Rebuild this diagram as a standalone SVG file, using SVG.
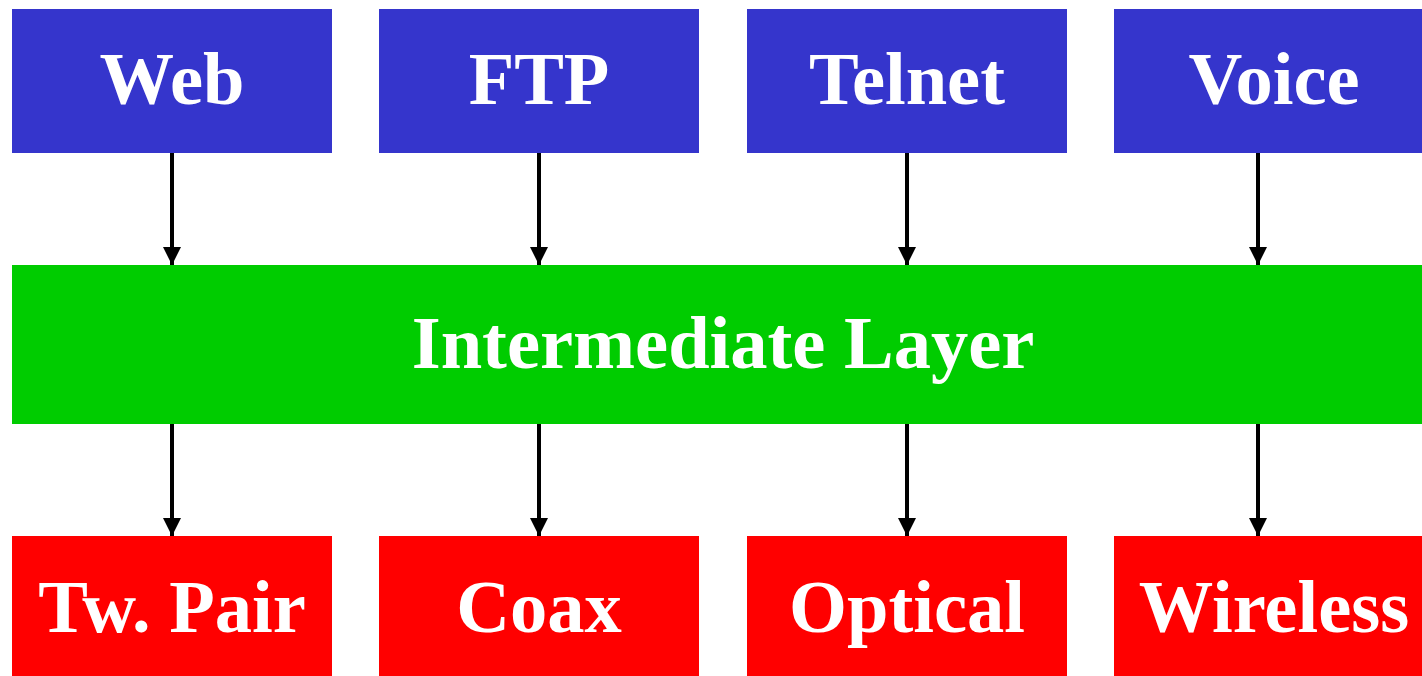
<svg xmlns="http://www.w3.org/2000/svg" width="1422" height="676" viewBox="0 0 1422 676">
<style>
.t{font-family:"Liberation Serif","Times New Roman",serif;font-weight:bold;font-size:74.5px;fill:#fff;text-anchor:middle}
.app{fill:#3535cc}
.mid{fill:#00cc00}
.phy{fill:#ff0000}
.c{stroke:#000;stroke-width:4;fill:none;marker-end:url(#ah)}
</style>
<defs>
<marker id="ah" markerUnits="userSpaceOnUse" markerWidth="18" markerHeight="18" refX="18" refY="9" orient="auto" viewBox="0 0 18 18">
<path d="M0,0 L18,9 L0,18 Z" fill="#000"/>
</marker>
</defs>
<rect width="1422" height="676" fill="#fff"/>
<g id="web"><rect class="app" x="12" y="9" width="320" height="144"/><text class="t" x="172" y="104">Web</text></g>
<g id="ftp"><rect class="app" x="379" y="9" width="320" height="144"/><text class="t" x="539" y="104">FTP</text></g>
<g id="telnet"><rect class="app" x="747" y="9" width="320" height="144"/><text class="t" x="907" y="104">Telnet</text></g>
<g id="voice"><rect class="app" x="1114" y="9" width="320" height="144"/><text class="t" x="1274" y="104">Voice</text></g>
<g id="intermediate"><rect class="mid" x="12" y="265" width="1422" height="159"/><text class="t" x="723" y="368">Intermediate Layer</text></g>
<g id="twpair"><rect class="phy" x="12" y="536" width="320" height="144"/><text class="t" x="172" y="632">Tw. Pair</text></g>
<g id="coax"><rect class="phy" x="379" y="536" width="320" height="144"/><text class="t" x="539" y="632">Coax</text></g>
<g id="optical"><rect class="phy" x="747" y="536" width="320" height="144"/><text class="t" x="907" y="632">Optical</text></g>
<g id="wireless"><rect class="phy" x="1114" y="536" width="320" height="144"/><text class="t" x="1274" y="632">Wireless</text></g>
<g id="connectors">
<path class="c" d="M172,153 V265"/>
<path class="c" d="M539,153 V265"/>
<path class="c" d="M907,153 V265"/>
<path class="c" d="M1258,153 V265"/>
<path class="c" d="M172,424 V536"/>
<path class="c" d="M539,424 V536"/>
<path class="c" d="M907,424 V536"/>
<path class="c" d="M1258,424 V536"/>
</g>
</svg>
